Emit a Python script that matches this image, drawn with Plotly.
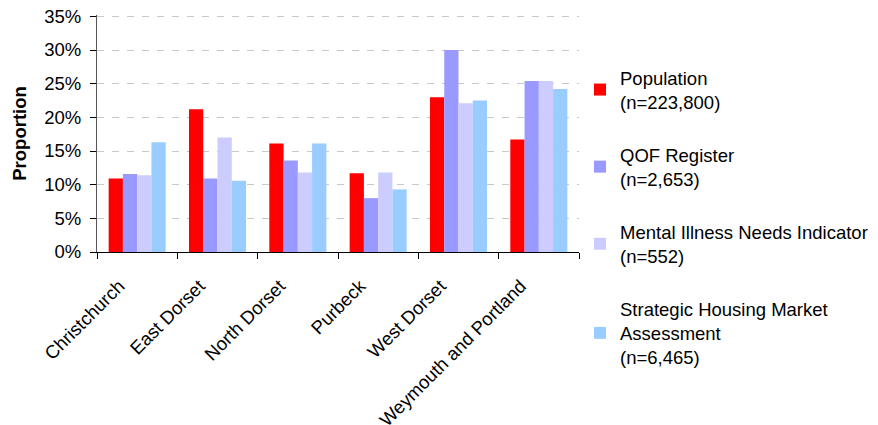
import plotly.graph_objects as go

categories = ["Christchurch", "East Dorset", "North Dorset", "Purbeck", "West Dorset", "Weymouth and Portland"]
series_names = [
    "Population<br>(n=223,800)",
    "QOF Register<br>(n=2,653)",
    "Mental Illness Needs Indicator<br>(n=552)",
    "Strategic Housing Market<br>Assessment<br>(n=6,465)",
]
population = [0.109, 0.212, 0.161, 0.117, 0.230, 0.167]
qof = [0.116, 0.109, 0.136, 0.080, 0.300, 0.254]
mini = [0.114, 0.170, 0.118, 0.118, 0.221, 0.254]
shma = [0.163, 0.106, 0.161, 0.093, 0.225, 0.242]
colors = ["#FF0000", "#9999FF", "#CCCCFF", "#99CCFF"]
y_ticks = [0, 0.05, 0.10, 0.15, 0.20, 0.25, 0.30, 0.35]
y_tick_labels = ["0%", "5%", "10%", "15%", "20%", "25%", "30%", "35%"]

fig = go.Figure()
for i, (name, vals) in enumerate(zip(series_names, [population, qof, mini, shma])):
    fig.add_trace(go.Bar(x=categories, y=vals, name=name, marker_color=colors[i],
                         marker_line_width=0, legendgroup=str(i)))

font_family = "Liberation Sans, Arial, sans-serif"
FS = 18.5
W, H = 870, 417
fig.update_layout(
    width=W, height=H,
    margin=dict(l=89, r=299, t=7, b=173, autoexpand=False),
    paper_bgcolor="white", plot_bgcolor="white",
    barmode="group", bargap=0.29, bargroupgap=0,
    font=dict(family=font_family, size=FS, color="black"),
    legend=dict(x=572 / W, y=1 - 51 / H, xref="container", yref="container",
                xanchor="left", yanchor="top",
                traceorder="grouped", tracegroupgap=26,
                font=dict(size=FS), itemwidth=30, maxheight=1.0),
    showlegend=True,
)
fig.update_xaxes(
    type="category", tickangle=-45, showline=True, linecolor="black", linewidth=1,
    ticks="outside", tickson="boundaries", ticklen=6, tickcolor="black",
    showgrid=False, tickfont=dict(size=FS), automargin=False,
    ticklabelstandoff=15, ticklabelshift=-18, ticklabeloverflow="allow",
)
fig.update_yaxes(
    range=[0, 0.352], tickvals=y_ticks, ticktext=y_tick_labels,
    showline=True, linecolor="#555555", linewidth=1,
    ticks="outside", ticklen=6, tickcolor="black",
    showgrid=True, gridcolor="#C8C8C8", griddash="7px,8px", gridwidth=1,
    zeroline=False, tickfont=dict(size=FS), automargin=False,
    ticklabelstandoff=5, ticklabeloverflow="allow",
    title=dict(text="<b>Proportion</b>", font=dict(size=FS), standoff=12),
)
fig.write_html("out.html")
